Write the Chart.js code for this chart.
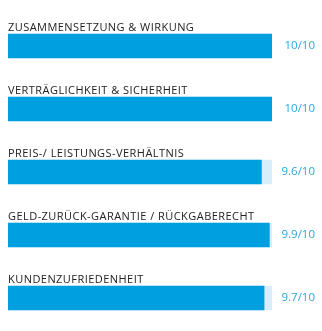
<!DOCTYPE html>
<html lang="de">
<head>
  <meta charset="UTF-8" />
  <title>Bewertung</title>
  <script src="https://cdn.jsdelivr.net/npm/chart.js"></script>
  <style>
    html, body { margin: 0; padding: 0; background: #fff; }
    #wrap { width: 322px; height: 331px; position: relative; }
  </style>
</head>
<body>
  <div id="wrap"><canvas id="chart"></canvas></div>

  <script>
    const categories = [
      "ZUSAMMENSETZUNG & WIRKUNG",
      "VERTRÄGLICHKEIT & SICHERHEIT",
      "PREIS-/ LEISTUNGS-VERHÄLTNIS",
      "GELD-ZURÜCK-GARANTIE / RÜCKGABERECHT",
      "KUNDENZUFRIEDENHEIT"
    ];
    const scores = [10, 10, 9.6, 9.9, 9.7];
    const maxScore = 10;
    const scoreLabels = ["10/10", "10/10", "9.6/10", "9.9/10", "9.7/10"];

    // Beschriftungen über den Balken und Wert rechts daneben
    const textPlugin = {
      id: "texte",
      afterDatasetsDraw(chart) {
        const ctx = chart.ctx;
        const meta = chart.getDatasetMeta(1);
        ctx.save();
        meta.data.forEach((bar, i) => {
          const top = bar.y - bar.height / 2;
          ctx.font = "11px 'Open Sans'";
          ctx.letterSpacing = "0.45px";
          ctx.fillStyle = "#222";
          ctx.textAlign = "left";
          ctx.textBaseline = "alphabetic";
          ctx.fillText(categories[i], chart.chartArea.left, top - 3);

          ctx.font = "11.5px 'Open Sans'";
          ctx.letterSpacing = "0px";
          ctx.fillStyle = "#2aa6e0";
          ctx.textAlign = "right";
          ctx.textBaseline = "middle";
          ctx.fillText(scoreLabels[i], 315, bar.y);
        });
        ctx.restore();
      }
    };

    new Chart(document.getElementById("chart"), {
      type: "bar",
      data: {
        labels: categories,
        datasets: [
          { data: scores, backgroundColor: "#009fe0", barThickness: 24, grouped: false },
          { data: categories.map(() => maxScore), backgroundColor: "#d8eefa", barThickness: 24, grouped: false }
        ]
      },
      options: {
        indexAxis: "y",
        responsive: true,
        maintainAspectRatio: false,
        animation: false,
        layout: { padding: { left: 8, right: 50, top: 14.5, bottom: 1.5 } },
        plugins: { legend: { display: false }, tooltip: { enabled: false } },
        scales: {
          x: { display: false, min: 0, max: maxScore },
          y: { display: false }
        }
      },
      plugins: [textPlugin]
    });
  </script>
</body>
</html>
